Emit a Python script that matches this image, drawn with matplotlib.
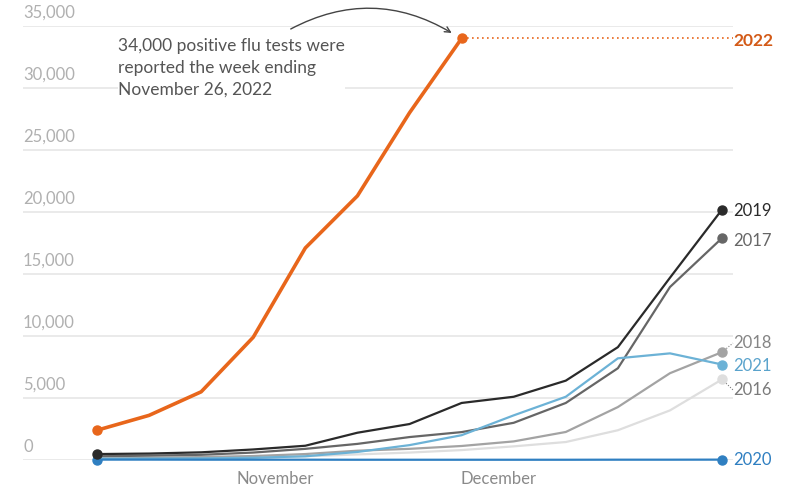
import matplotlib
matplotlib.use('Agg')
import matplotlib.pyplot as plt
import matplotlib.dates as mdates
import matplotlib.transforms as mtransforms
import pandas as pd

plt.rcParams['font.family'] = ['Lato', 'DejaVu Sans']

# weekly positive flu tests, aligned by week of season (week ending dates of 2022)
weeks = pd.date_range('2022-10-08', periods=13, freq='7D')

flu_2022 = [2400, 3600, 5500, 9900, 17100, 21300, 28000, 34000]
flu_2019 = [480, 520, 620, 850, 1150, 2200, 2900, 4600, 5100, 6400, 9100, 14700, 20200]
flu_2017 = [300, 350, 420, 600, 900, 1300, 1850, 2250, 3000, 4600, 7400, 13950, 17900]
flu_2018 = [100, 160, 240, 320, 480, 750, 900, 1130, 1500, 2260, 4270, 7000, 8700]
flu_2021 = [100, 110, 130, 180, 300, 650, 1200, 2000, 3600, 5100, 8200, 8600, 7700]
flu_2016 = [100, 120, 150, 200, 300, 450, 600, 800, 1100, 1450, 2400, 4000, 6500]
flu_2020 = [30, 30, 25, 25, 25, 20, 20, 20, 20, 20, 25, 25, 30]

y_ticks = [0, 5000, 10000, 15000, 20000, 25000, 30000, 35000]

# (label, values, line colour, label colour, label y)
series = [
    ('2016', flu_2016, '#dedede', '#7a7a7a', 5650),
    ('2018', flu_2018, '#a3a3a3', '#858585', 9430),
    ('2017', flu_2017, '#666666', '#666666', 17660),
    ('2021', flu_2021, '#6cb2d6', '#5aa3cc', 7580),
    ('2020', flu_2020, '#2f7fc1', '#2f7fc1', 0),
    ('2019', flu_2019, '#2a2a2a', '#2a2a2a', 20080),
]

fig = plt.figure(figsize=(7.92, 4.88), dpi=100)
W, H = 792, 488
ax = fig.add_axes([23 / W, (H - 460) / H, (733 - 23) / W, (460 - 26) / H])

x = mdates.date2num(weeks)
ax.set_xlim(x[0] - 9.94, x[-1] + 1.47)
ax.set_ylim(0, 35000)

for s in ax.spines.values():
    s.set_visible(False)
ax.set_yticks([])

blend = mtransforms.blended_transform_factory(ax.transAxes, ax.transData)
tick_tr = blend + mtransforms.ScaledTranslation(0, 5 / 100, fig.dpi_scale_trans)
label_tr = blend

# gridlines with their labels sitting on top
for v in y_ticks:
    ax.axhline(v, color='#e6e6e6', lw=1.2, zorder=0)
    ax.text(0, v, f'{v:,}', transform=tick_tr, ha='left', va='bottom',
            fontsize=12, color='#b0b0b0')

for i, (name, vals, lc, tc, ly) in enumerate(series):
    ax.plot(x[:len(vals)], vals, color=lc, lw=1.6, zorder=2 + i, clip_on=False)
    ax.plot(x[len(vals) - 1], vals[-1], 'o', color=lc, ms=6.5, zorder=2 + i, clip_on=False)
    ax.text(1, ly, name, transform=label_tr, ha='left', va='center', fontsize=12, color=tc)
    # short dotted leader when the label is nudged away from its end point
    if abs(ly - vals[-1]) > 500:
        ax.plot([x[len(vals) - 1], ax.get_xlim()[1]], [vals[-1], ly], color=tc, lw=0.8,
                ls=(0, (1, 1.5)), zorder=1, clip_on=False)

# start dots
ax.plot(x[0], flu_2020[0], 'o', color='#2f7fc1', ms=6.5, zorder=3, clip_on=False)
ax.plot(x[0], flu_2019[0], 'o', color='#2a2a2a', ms=6.5, zorder=8, clip_on=False)

# 2022 season
orange = '#e8661b'
n = len(flu_2022)
ax.plot(x[:n], flu_2022, color=orange, lw=2.6, zorder=10, solid_capstyle='round')
ax.plot([x[0], x[n - 1]], [flu_2022[0], flu_2022[-1]], 'o', color=orange, ms=6.5, zorder=10)
ax.plot([x[n - 1], ax.get_xlim()[1]], [flu_2022[-1]] * 2, color=orange, lw=1.2,
        ls=(0, (1, 2)), zorder=9)
ax.text(1, 33790, '2022', transform=label_tr, ha='left', va='center', fontsize=12.5,
        color='#d35a17', fontweight='bold')

# annotation
ax.annotate('', xy=(x[0] + 6.81 * 7, 34440), xytext=(x[0] + 3.72 * 7, 34760),
            arrowprops=dict(arrowstyle='->', color='#444444', lw=1,
                            connectionstyle='arc3,rad=-0.28', shrinkA=0, shrinkB=0),
            annotation_clip=False)
ax.text(x[0] + (118 - 97) / 52.1 * 7, (460 - 38) * 5000 / 62,
        '34,000 positive flu tests were\nreported the week ending\nNovember 26, 2022',
        ha='left', va='top', fontsize=12.5, color='#555555', linespacing=1.45,
        bbox=dict(facecolor='white', edgecolor='none', pad=0), zorder=5)

# month ticks
ax.set_xticks(mdates.date2num(pd.to_datetime(['2022-11-01', '2022-12-01'])))
ax.set_xticklabels(['November', 'December'], fontsize=12, color='#8a8a8a')
ax.tick_params(axis='x', length=0, pad=8)

fig.savefig('out.png', dpi=100)
